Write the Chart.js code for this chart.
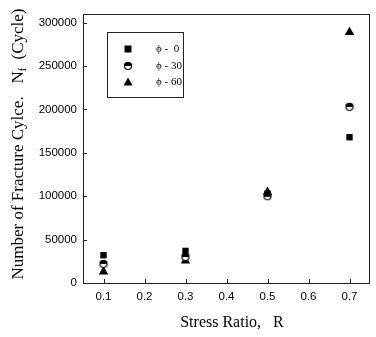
<!DOCTYPE html>
<html>
<head>
<meta charset="utf-8">
<script src="https://cdn.jsdelivr.net/npm/chart.js@4/dist/chart.umd.min.js"></script>
<style>
  html, body { margin: 0; padding: 0; background: #fff; }
  #wrap { width: 376px; height: 337px; position: relative; }
</style>
</head>
<body>
<div id="wrap"><canvas id="chart"></canvas></div>
<script>
const STRESS_RATIO = [0.1, 0.3, 0.5, 0.7];
const PHI_0 = [32000, 37000, 103000, 168000];
const PHI_30 = [22000, 30000, 100000, 203000];
const PHI_60 = [13000, 25500, 105000, 289000];
const SERIES_LABELS = ['\u03d5 -  0', '\u03d5 - 30', '\u03d5 - 60'];
const X_TICKS = [0.1, 0.2, 0.3, 0.4, 0.5, 0.6, 0.7];
const Y_TICKS = [0, 50000, 100000, 150000, 200000, 250000, 300000];

const SERIF = '"Liberation Serif", "DejaVu Serif", serif';
const SANS = '"Liberation Sans", Arial, sans-serif';

// half filled circle marker, like the scanned figure
function halfCircle(r) {
  const c = document.createElement('canvas');
  c.width = c.height = r * 2 + 2;
  const g = c.getContext('2d');
  const m = r + 1;
  g.fillStyle = '#fff';
  g.beginPath(); g.arc(m, m, r, 0, Math.PI * 2); g.fill();
  g.fillStyle = '#000';
  g.beginPath(); g.arc(m, m, r, Math.PI, 0); g.closePath(); g.fill();
  g.strokeStyle = '#000'; g.lineWidth = 1.2;
  g.beginPath(); g.arc(m, m, r - 0.5, 0, Math.PI * 2); g.stroke();
  return c;
}
const circleMark = halfCircle(4);

const toPoints = (ys) => STRESS_RATIO.map((x, i) => ({ x, y: ys[i] }));

const frameAndTitles = {
  id: 'frameAndTitles',
  afterDraw(chart) {
    const { ctx, chartArea: a, scales } = chart;
    ctx.save();
    ctx.strokeStyle = '#222';
    ctx.lineWidth = 1;
    ctx.strokeRect(a.left + 0.5, a.top + 0.5, a.right - a.left - 1, a.bottom - a.top);
    // inward ticks
    X_TICKS.forEach((t) => {
      const px = Math.round(scales.x.getPixelForValue(t)) + 0.5;
      ctx.beginPath(); ctx.moveTo(px, a.bottom); ctx.lineTo(px, a.bottom - 4); ctx.stroke();
    });
    Y_TICKS.forEach((t) => {
      const py = Math.round(scales.y.getPixelForValue(t)) + 0.5;
      ctx.beginPath(); ctx.moveTo(a.left, py); ctx.lineTo(a.left + 4, py); ctx.stroke();
    });

    // legend box
    const lx = 107, ly = 32, lw = 76, lh = 65;
    ctx.strokeRect(lx + 0.5, ly + 0.5, lw, lh);
    const rows = [49, 66, 82];
    ctx.fillStyle = '#000';
    ctx.font = '11px ' + SERIF;
    ctx.textBaseline = 'middle';
    chart.data.datasets.forEach((ds, i) => {
      const mx = 128, my = rows[i];
      if (ds.pointStyle === 'rect') {
        ctx.fillRect(mx - 3.5, my - 3.5, 7, 7);
      } else if (ds.pointStyle === 'triangle') {
        ctx.beginPath(); ctx.moveTo(mx, my - 4.5); ctx.lineTo(mx + 4.5, my + 3.5); ctx.lineTo(mx - 4.5, my + 3.5); ctx.closePath(); ctx.fill();
      } else {
        ctx.drawImage(ds.pointStyle, mx - 5, my - 5);
      }
      ctx.textAlign = 'left';
      ctx.fillText(ds.label, 156, my);
    });

    // x title
    ctx.textAlign = 'center';
    ctx.font = '16px ' + SERIF;
    ctx.fillText('Stress Ratio,   R', 232, 323);

    // y title with subscript
    ctx.translate(19, 144);
    ctx.rotate(-Math.PI / 2);
    const parts = [
      { t: 'Number of Fracture Cylce.   N', f: '17px ' + SERIF, dy: 0 },
      { t: 'f', f: '10px ' + SERIF, dy: 4 },
      { t: '  (Cycle)', f: '17px ' + SERIF, dy: 0 },
    ];
    let total = 0;
    parts.forEach((p) => { ctx.font = p.f; total += ctx.measureText(p.t).width; });
    let x = -total / 2;
    ctx.textAlign = 'left';
    parts.forEach((p) => {
      ctx.font = p.f;
      ctx.fillText(p.t, x, p.dy);
      x += ctx.measureText(p.t).width;
    });
    ctx.restore();
  },
};

new Chart(document.getElementById('chart'), {
  type: 'scatter',
  data: {
    datasets: [
      { label: SERIES_LABELS[0], data: toPoints(PHI_0), pointStyle: 'rect', pointRadius: 4.5, backgroundColor: '#000', borderColor: '#000', borderWidth: 0 },
      { label: SERIES_LABELS[1], data: toPoints(PHI_30), pointStyle: circleMark, pointRadius: 5, backgroundColor: '#000', borderColor: '#000' },
      { label: SERIES_LABELS[2], data: toPoints(PHI_60), pointStyle: 'triangle', pointRadius: 5.5, backgroundColor: '#000', borderColor: '#000', borderWidth: 0 },
    ],
  },
  options: {
    responsive: true,
    maintainAspectRatio: false,
    animation: false,
    layout: { padding: { left: 0, top: 14, right: 1, bottom: 0 } },
    plugins: { legend: { display: false }, tooltip: { enabled: false } },
    scales: {
      x: {
        type: 'linear',
        min: 0.05,
        max: 0.75,
        afterBuildTicks: (s) => { s.ticks = X_TICKS.map((v) => ({ value: v })); },
        afterFit: (s) => { s.height = 54; },
        grid: { display: false, drawTicks: false },
        border: { display: false },
        ticks: { color: '#000', padding: 7, font: { family: SANS, size: 11.5 }, callback: (v) => v.toFixed(1) },
      },
      y: {
        min: 0,
        max: 310000,
        afterBuildTicks: (s) => { s.ticks = Y_TICKS.map((v) => ({ value: v })); },
        afterFit: (s) => { s.width = 83; },
        grid: { display: false, drawTicks: false },
        border: { display: false },
        ticks: { color: '#000', padding: 6, font: { family: SANS, size: 11.5 }, callback: (v) => String(v) },
      },
    },
  },
  plugins: [frameAndTitles],
});
</script>
</body>
</html>
